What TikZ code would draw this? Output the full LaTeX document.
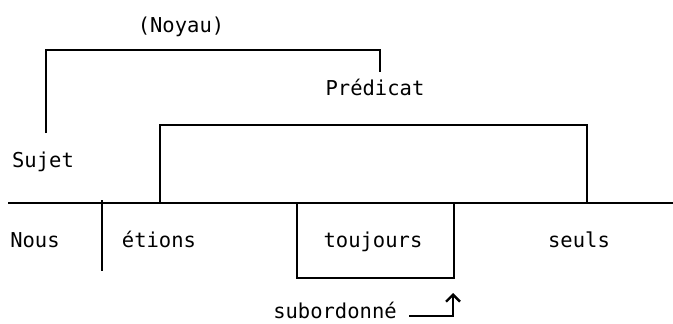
\documentclass[tikz,border=0pt]{standalone}
\usepackage{fontspec}
\setmainfont{DejaVu Sans Mono}
\usetikzlibrary{arrows.meta}
\begin{document}
\begin{tikzpicture}[x=1pt,y=-1pt,
  lbl/.style={font=\fontsize{20.5}{24}\selectfont, inner sep=0pt, anchor=base},
  ln/.style={line width=2.6pt}]
\useasboundingbox (0,0) rectangle (673,324);
% labels
\node[lbl] (noyau) at (181,32) {(Noyau)};
\node[lbl] (pred) at (375,95) {Prédicat};
\node[lbl] (sujet) at (43,167) {Sujet};
\node[lbl] (nous) at (35,247) {Nous};
\node[lbl] (etions) at (159,247) {étions};
\node[lbl] (toujours) at (373,247) {toujours};
\node[lbl] (seuls) at (579,247) {seuls};
\node[lbl] (sub) at (335,318) {subordonné};
% coordinates
\coordinate (nA) at (46,133);
\coordinate (nB) at (46,50);
\coordinate (nC) at (380,50);
\coordinate (nD) at (380,72);
\coordinate (pA) at (160,203);
\coordinate (pB) at (160,125);
\coordinate (pC) at (587,125);
\coordinate (pD) at (587,203);
\coordinate (bL) at (8,203);
\coordinate (bR) at (673,203);
\coordinate (vT) at (102,200);
\coordinate (vB) at (102,271);
\coordinate (tA) at (297,203);
\coordinate (tB) at (297,278);
\coordinate (tC) at (454,278);
\coordinate (tD) at (454,203);
\coordinate (aS) at (409,316);
\coordinate (aC) at (453,316);
\coordinate (aE) at (453,293);
% lines
\draw[ln] (nA) -- (nB) -- (nC) -- (nD);
\draw[ln] (pA) -- (pB) -- (pC) -- (pD);
\draw[ln] (bL) -- (bR);
\draw[ln] (vT) -- (vB);
\draw[ln] (tA) -- (tB) -- (tC) -- (tD);
\draw[ln, -{Straight Barb[length=7pt,width=14pt,line width=2.4pt]}] (aS) -- (aC) -- (aE);
\end{tikzpicture}
\end{document}
